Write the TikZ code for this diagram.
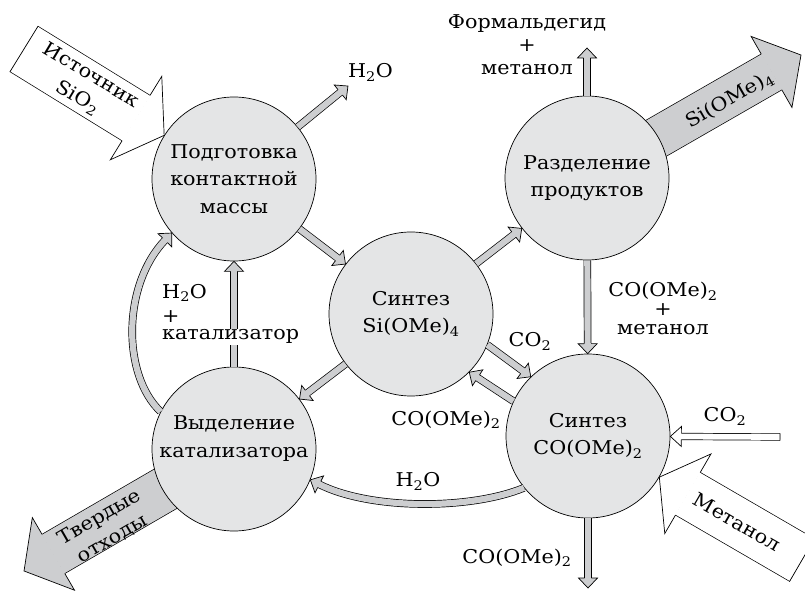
\documentclass[tikz,border=0pt]{standalone}
\usepackage{fontspec}
\setmainfont{DejaVu Serif}[FakeStretch=1.09]
\usetikzlibrary{decorations.markings,calc}
\pgfdeclarelayer{background}
\pgfsetlayers{background,main}
\definecolor{circfill}{RGB}{228,229,230}
\definecolor{arrfill}{RGB}{205,206,208}
\tikzset{
  proc/.style={circle, draw=black, line width=0.7pt, fill=circfill, minimum size=164pt,
    inner sep=0pt, align=center, font=\fontsize{19}{27.5}\selectfont},
  ctext/.style={inner sep=0pt, align=center, font=\fontsize{19}{27.5}\selectfont},
  lbl/.style={inner sep=0pt, align=center, font=\fontsize{19}{23}\selectfont},
  fatarrow/.style n args={4}{draw=none,
    postaction={draw=black, line width={2*(#1)}, shorten >={#3-0.5pt}},
    postaction={draw=#4, line width={2*(#1)-1.4}, shorten >={#3-0.5pt}},
    postaction={decorate, decoration={markings, mark=at position 0.99999 with {
      \filldraw[fill=#4, draw=black, line width=0.7pt, line join=miter, miter limit=20]
        (-#3pt,#1pt-0.35pt) -- (-#3pt,#2pt) -- (0pt,0pt) -- (-#3pt,-#2pt) -- (-#3pt,-#1pt+0.35pt);}}}},
  closedtail/.style={postaction={decorate, decoration={markings, mark=at position 0 with {
      \draw[line width=0.7pt] (0pt,-#1pt) -- (0pt,#1pt);}}}},
  small/.style={fatarrow={3.8}{9.5}{10}{arrfill}},
}
\begin{document}
\begin{tikzpicture}[x=1pt,y=1pt]
\useasboundingbox (0,0) rectangle (805,592);
\clip (0,0) rectangle (805,592);
% process circles
\node[proc] (P) at (234,413) {Подготовка\\контактной\\массы};
\node[proc] (R) at (587,414) {Разделение\\продуктов};
\node[proc] (S) at (411,278) {Синтез\\Si(OMe)\textsubscript{4}};
\node[proc] (V) at (234,143) {};
\node[ctext] (Vt) at (234,153.5) {Выделение\\катализатора};
\node[proc] (C) at (588,156) {Синтез\\CO(OMe)\textsubscript{2}};
% free ends
\coordinate (srcTail) at (24,543);
\coordinate (siOut) at (801,537);
\coordinate (wasteOut) at (24,21);
\coordinate (methTail) at (802,32);
\coordinate (co2Tail) at (780,155);
\coordinate (h2oOut) at (348,506);
\coordinate (topOut) at (587,544);
\coordinate (botOut) at (588,4);
% big grey arrows behind the circles
\begin{pgfonlayer}{background}
  \draw[fatarrow={21}{41}{34}{arrfill}] (R.center) -- (siOut);
  \draw[fatarrow={23}{42}{34}{arrfill}] (V.center) -- (wasteOut);
\end{pgfonlayer}
% big white arrows
\draw[fatarrow={27}{49}{33}{white}, closedtail=27] (srcTail) -- (P.148);
\draw[fatarrow={25}{46}{33}{white}, closedtail=25] (methTail) -- (C.-30);
\draw[fatarrow={3.6}{10}{11}{white}, closedtail=3.6] (co2Tail) -- (C);
% small grey arrows
\draw[small] (P) -- (h2oOut);
\draw[small] (P) -- (S);
\draw[small] (S) -- (R);
\draw[small] (S) -- (V);
\draw[small] (S.-22) -- (C.134);
\draw[small] (C.155) -- (S.-45);
\draw[small] (R) -- (C);
\draw[small] (R) -- (topOut);
\draw[small] (C) -- (botOut);
\draw[small] (V) -- (P);
\draw[small] (V.153) .. controls (122,217) and (122,307) .. (P.221);
\draw[small] (C.219) .. controls (470,82) and (370,82) .. (V.-22);
% labels
\node[lbl] (lform) at (527,547.5) {Формальдегид\\+\\метанол};
\node[lbl, anchor=base] (lh2o1) at (370.5,514) {H\textsubscript{2}O};
\node[lbl, font=\fontsize{19}{19}\selectfont] (lcom) at (663,283.5) {CO(OMe)\textsubscript{2}\\+\\метанол};
\node[lbl, anchor=west, align=left, font=\fontsize{19}{24}\selectfont] (lh2o2) at (162,289) {H\textsubscript{2}O\\+};
\node[lbl, anchor=base west, fill=white, inner sep=1pt] (lcat) at (161,252) {катализатор};
\node[lbl, anchor=base] (lco2a) at (530,245.5) {CO\textsubscript{2}};
\node[lbl, anchor=base] (lcom2) at (446,167) {CO(OMe)\textsubscript{2}};
\node[lbl, anchor=base] (lcom3) at (517,29) {CO(OMe)\textsubscript{2}};
\node[lbl, anchor=base] (lh2o3) at (418,105.5) {H\textsubscript{2}O};
\node[lbl, anchor=base] (lco2b) at (725,170.5) {CO\textsubscript{2}};
\node[lbl, rotate=-31, font=\fontsize{19}{26}\selectfont] (lsrc) at (84,505) {Источник\\SiO\textsubscript{2}};
\node[lbl, rotate=30] (lsi) at (730,492) {Si(OMe)\textsubscript{4}};
\node[lbl, rotate=30, font=\fontsize{19}{25}\selectfont] (lwaste) at (106,64) {Твердые\\отходы};
\node[lbl, rotate=-30] (lmeth) at (737,70) {Метанол};
\end{tikzpicture}
\end{document}
